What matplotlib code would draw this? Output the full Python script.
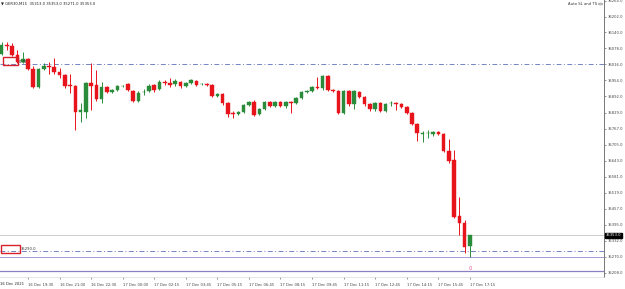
import matplotlib
matplotlib.use("Agg")
import matplotlib.pyplot as plt
import matplotlib.transforms as mtransforms
from matplotlib.patches import Rectangle

# ---- data ----
opens = [36055, 36090, 36086, 36051, 36024, 36036, 35997, 35927, 35997, 36012,
         36005, 35985, 35974, 35935, 35931, 35831, 35831, 35943, 35935, 35881,
         35927, 35908, 35916, 35931, 35939, 35912, 35873, 35908, 35912, 35935,
         35920, 35947, 35943, 35939, 35947, 35931, 35943, 35951, 35939, 35939,
         35935, 35892, 35900, 35865, 35827, 35823, 35831, 35858, 35869, 35823,
         35842, 35869, 35854, 35869, 35854, 35869, 35865, 35885, 35908, 35912,
         35927, 35923, 35970, 35916, 35912, 35827, 35912, 35862, 35908, 35889,
         35862, 35842, 35865, 35834, 35865, 35865, 35862, 35850, 35827, 35784,
         35745, 35749, 35745, 35753, 35745, 35680, 35645, 35428, 35401, 35313]
highs = [36105, 36102, 36098, 36071, 36063, 36040, 36012, 36001, 36020, 36024,
         36043, 36001, 35981, 35981, 35935, 35865, 35947, 36020, 35993, 35947,
         35931, 35920, 35935, 35935, 35943, 35916, 35912, 35920, 35939, 35939,
         35954, 35954, 35962, 35958, 35951, 35947, 35958, 35954, 35943, 35943,
         35939, 35904, 35904, 35869, 35834, 35834, 35862, 35873, 35877, 35846,
         35873, 35873, 35873, 35873, 35873, 35873, 35889, 35912, 35916, 35931,
         35966, 35974, 35974, 35920, 35916, 35916, 35916, 35916, 35912, 35893,
         35865, 35869, 35869, 35865, 35873, 35869, 35865, 35854, 35831, 35788,
         35757, 35761, 35757, 35757, 35749, 35726, 35684, 35502, 35413, 35353]
lows = [36051, 36071, 36047, 36020, 36020, 35993, 35923, 35923, 35993, 35981,
        35981, 35962, 35923, 35904, 35761, 35792, 35807, 35838, 35873, 35865,
        35904, 35904, 35912, 35927, 35912, 35869, 35869, 35896, 35908, 35908,
        35916, 35935, 35927, 35931, 35923, 35927, 35939, 35931, 35935, 35931,
        35889, 35889, 35858, 35811, 35807, 35819, 35827, 35854, 35815, 35819,
        35838, 35850, 35850, 35850, 35846, 35827, 35862, 35881, 35904, 35908,
        35920, 35916, 35912, 35908, 35823, 35823, 35854, 35842, 35885, 35854,
        35834, 35834, 35831, 35831, 35854, 35838, 35846, 35823, 35780, 35718,
        35714, 35730, 35738, 35742, 35676, 35633, 35420, 35355, 35285, 35271]
closes = [36090, 36086, 36051, 36024, 36036, 35997, 35927, 35997, 36012, 36005,
          35985, 35974, 35931, 35931, 35831, 35838, 35943, 35931, 35881, 35927,
          35908, 35916, 35931, 35932, 35916, 35873, 35904, 35909, 35931, 35916,
          35947, 35943, 35935, 35951, 35931, 35943, 35954, 35935, 35940, 35937,
          35892, 35900, 35865, 35823, 35823, 35831, 35858, 35869, 35819, 35842,
          35869, 35854, 35869, 35854, 35869, 35865, 35885, 35908, 35912, 35927,
          35923, 35970, 35916, 35912, 35827, 35912, 35862, 35912, 35889, 35862,
          35842, 35865, 35834, 35862, 35866, 35863, 35850, 35827, 35784, 35749,
          35749, 35750, 35753, 35745, 35680, 35641, 35424, 35401, 35308, 35353]

price_ticks = [36264.0, 36202.0, 36140.0, 36078.0, 36016.0, 35954.0, 35892.0,
               35829.0, 35767.0, 35705.0, 35643.0, 35581.0, 35519.0, 35457.0,
               35395.0, 35332.0, 35270.0, 35208.0]
time_tick_idx = [5, 11, 17, 23, 29, 35, 41, 47, 53, 59, 65, 71, 77, 83, 89]
time_tick_labels = ["16 Dec 19:30", "16 Dec 21:00", "16 Dec 22:30", "17 Dec 00:00",
                    "17 Dec 02:15", "17 Dec 03:45", "17 Dec 05:15", "17 Dec 06:45",
                    "17 Dec 08:15", "17 Dec 09:45", "17 Dec 11:15", "17 Dec 12:45",
                    "17 Dec 14:15", "17 Dec 15:45", "17 Dec 17:15"]
first_label = "16 Dec 2021"

level_dashdot = [36016.0, 35292.0]
bid_price = 35353.0
level_lav = 35270.0
level_purple = 35215.0

symbol = "GER30,M15"

# ---- figure ----
W, H = 625, 289
FS = 2.7
fig = plt.figure(figsize=(W / 100, H / 100), dpi=100)
fig.patch.set_facecolor("white")
ax = fig.add_axes([0, 12 / H, 604 / W, 277 / H])
ax.set_facecolor("white")

up_col = "#2a8c3a"
dn_col = "#e8141b"
n = len(opens)
xs = list(range(n))
for i in xs:
    o, h, l, c = opens[i], highs[i], lows[i], closes[i]
    col = up_col if c >= o else dn_col
    ax.vlines(i, l, h, color=col, linewidth=0.7, zorder=3)
    bot = min(o, c)
    hgt = max(abs(c - o), 1.5)
    ax.bar(i, hgt, bottom=bot, width=0.68, color=col, edgecolor=col,
           linewidth=0.3, zorder=4)

ax.set_xlim(-0.32, 114.5)
ax.set_ylim(35192, 36266)

# levels
for lv in level_dashdot:
    ax.axhline(lv, color="#7383c4", linewidth=0.7, linestyle=(0, (5, 2.5, 1, 2.5)), zorder=2)
ax.axhline(bid_price, color="#c4c4c4", linewidth=0.6, zorder=1)
ax.axhline(level_lav, color="#a89ad6", linewidth=0.7, zorder=1)
ax.axhline(level_purple, color="#8d7fc6", linewidth=0.9, zorder=1)

# axes styling
for s in ["top", "left"]:
    ax.spines[s].set_visible(False)
ax.spines["right"].set_color("#777777")
ax.spines["right"].set_linewidth(0.7)
ax.spines["bottom"].set_color("#dddddd")
ax.spines["bottom"].set_linewidth(0.5)

ax.yaxis.tick_right()
ax.set_yticks(price_ticks)
ax.set_yticklabels([f"{v:.1f}" for v in price_ticks], fontsize=FS, color="#222222")
ax.tick_params(axis="y", length=1.5, width=0.4, pad=1.5, colors="#444444")

ax.set_xticks(time_tick_idx)
ax.set_xticklabels(time_tick_labels, fontsize=FS, color="#222222")
for lab in ax.get_xticklabels():
    lab.set_horizontalalignment("left")
ax.tick_params(axis="x", length=1.5, width=0.4, pad=2.5, colors="#444444")

# first date label, aligned with the other time labels
fig.text(0.5 / W, 1 - 284 / H, first_label, fontsize=FS, color="#222222",
         ha="left", va="center")

# bid label on the price axis
trans_y = mtransforms.blended_transform_factory(ax.transAxes, ax.transData)
ax.text(1.003, bid_price, f"{bid_price:.1f}", transform=trans_y, fontsize=FS,
        color="white", ha="left", va="center",
        bbox=dict(boxstyle="square,pad=0.25", fc="black", ec="black"), clip_on=False, zorder=10)

# header texts
fig.text(1 / W, 1 - 3.5 / H,
         f"\u25BC {symbol}  {opens[-1]:.1f} {highs[-1]:.1f} {lows[-1]:.1f} {closes[-1]:.1f}",
         fontsize=FS, color="#222222", ha="left", va="center")
fig.text(597 / W, 1 - 4 / H, "Auto SL and TS", fontsize=FS, color="#333333",
         ha="right", va="center")
fig.patches.append(plt.Circle((600.5 / W, 1 - 4 / H), 2 / W, transform=fig.transFigure,
                              fill=False, ec="#666666", lw=0.4))

# red label boxes
fig.patches.append(Rectangle((3 / W, 1 - 65 / H), 15 / W, 8 / H, transform=fig.transFigure,
                             fill=False, ec="#d8202a", lw=1.0))
fig.text(19 / W, 1 - 62 / H, "0.78", fontsize=FS, color="#333333", ha="left", va="center")
fig.patches.append(Rectangle((0.5 / W, 1 - 253 / H), 19 / W, 8 / H, transform=fig.transFigure,
                             fill=False, ec="#d8202a", lw=1.0))
fig.text(21 / W, 1 - 249.5 / H, "35290.0", fontsize=FS, color="#333333", ha="left", va="center")

# small marker under the last bar
ax.text(n - 1, 35225, "0", fontsize=3.6, color="#e0508f", ha="center", va="center",
        zorder=6)

fig.savefig("out.png", dpi=100, facecolor="white")
